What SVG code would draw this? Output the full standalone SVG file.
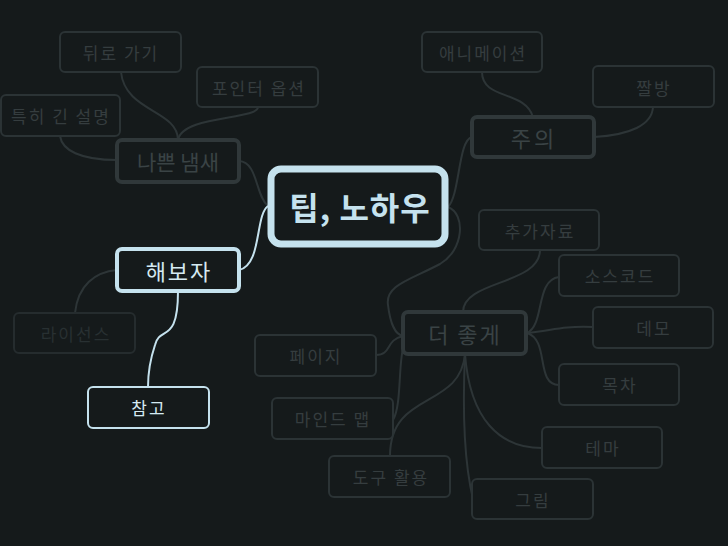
<svg xmlns="http://www.w3.org/2000/svg" width="728" height="546" viewBox="0 0 728 546">
<style>
text{font-family:"Noto Sans CJK KR","Noto Sans",sans-serif;text-anchor:middle;dominant-baseline:central}
.sub rect{fill:#151a1b;stroke:#2b3335;stroke-width:2}
.sub text{fill:#353d3f;font-size:17px;letter-spacing:2px}
.main rect{fill:#151a1b;stroke:#30383a;stroke-width:4}
.main text{fill:#3a4345;font-size:22px;letter-spacing:2px}
.faint rect{stroke:#252c2e}
.faint text{fill:#283032}
.lit rect{stroke:#c5e2ee}
.lit text{fill:#d5eaf2}
.c{fill:none;stroke:#2d3537;stroke-width:2}
.cl{fill:none;stroke:#c5e2ee;stroke-width:2}
</style>
<rect width="728" height="546" fill="#151a1b"/>
<g id="connectors">
<path class="c" d="M448,207 C466,214 464,250 440,264 C410,280 385,285 388,305 C390,322 395,335 403,336"/>
<path class="c" d="M448,207 C460,195 458,140 472,137"/>
<path class="c" d="M268,206 C255,195 258,162 239,161"/>
<path class="cl" d="M268,206 C255,215 262,265 239,270"/>
<path class="c" d="M178,140 C178,110 125,112 121,72"/>
<path class="c" d="M178,140 C182,115 258,120 258,107"/>
<path class="c" d="M117,160 C80,160 62,150 60,136"/>
<path class="c" d="M482,72 C482,100 525,90 533,117"/>
<path class="c" d="M594,137 C630,135 652,125 653,107"/>
<path class="c" d="M117,270 C95,272 78,285 75,313"/>
<path class="cl" d="M178,291 C178,345 160,325 155,345 C150,360 148,375 148,387"/>
<path class="c" d="M463,312 C463,280 540,285 540,250"/>
<path class="c" d="M527,333 C545,325 535,280 559,277"/>
<path class="c" d="M527,333 C555,330 560,326 593,327"/>
<path class="c" d="M527,333 C550,340 535,385 559,385"/>
<path class="c" d="M403,336 C385,340 392,355 376,355"/>
<path class="c" d="M404,345 C398,360 402,405 393,420"/>
<path class="c" d="M465,354 C460,410 390,390 390,456"/>
<path class="c" d="M465,354 C462,420 466,470 473,499"/>
<path class="c" d="M465,354 C470,420 500,448 542,448"/>
</g>
<g id="node-center">
<rect x="271" y="169" width="174" height="75" rx="10" fill="#151a1b" stroke="#c5e2ee" stroke-width="7"/>
<text x="360" y="206" font-size="32" font-weight="bold" fill="#c5e2ee" letter-spacing="1">팁, 노하우</text>
</g>
<g id="node-nappeun" class="main"><rect x="117" y="140" width="122" height="42" rx="5"/><text x="178" y="161" style="letter-spacing:0;font-size:21px">나쁜 냄새</text></g>
<g id="node-dwiro" class="sub"><rect x="60" y="32" width="121" height="40" rx="5"/><text x="121" y="52">뒤로 가기</text></g>
<g id="node-pointer" class="sub"><rect x="197" y="67" width="121" height="40" rx="5"/><text x="259" y="87">포인터 옵션</text></g>
<g id="node-teukhi" class="sub"><rect x="1" y="95" width="119" height="41" rx="5"/><text x="61" y="115">특히 긴 설명</text></g>
<g id="node-juui" class="main"><rect x="472" y="117" width="122" height="40" rx="5"/><text x="534" y="137" style="letter-spacing:3px">주의</text></g>
<g id="node-anim" class="sub"><rect x="422" y="32" width="120" height="40" rx="5"/><text x="483" y="52">애니메이션</text></g>
<g id="node-jjal" class="sub"><rect x="593" y="66" width="121" height="41" rx="5"/><text x="654" y="87">짤방</text></g>
<g id="node-haeboja" class="main lit"><rect x="117" y="249" width="122" height="42" rx="5"/><text x="179" y="270">해보자</text></g>
<g id="node-license" class="sub faint"><rect x="14" y="313" width="121" height="40" rx="5"/><text x="76" y="333">라이선스</text></g>
<g id="node-chamgo" class="sub lit"><rect x="88" y="387" width="121" height="41" rx="5"/><text x="149" y="407">참고</text></g>
<g id="node-deojoke" class="main"><rect x="403" y="312" width="123" height="42" rx="5"/><text x="465" y="333">더 좋게</text></g>
<g id="node-chuga" class="sub"><rect x="479" y="210" width="120" height="40" rx="5"/><text x="540" y="230">추가자료</text></g>
<g id="node-source" class="sub"><rect x="559" y="255" width="120" height="41" rx="5"/><text x="620" y="275">소스코드</text></g>
<g id="node-demo" class="sub"><rect x="593" y="307" width="120" height="41" rx="5"/><text x="654" y="327">데모</text></g>
<g id="node-mokcha" class="sub"><rect x="559" y="364" width="120" height="41" rx="5"/><text x="620" y="384">목차</text></g>
<g id="node-page" class="sub"><rect x="255" y="335" width="121" height="41" rx="5"/><text x="316" y="355">페이지</text></g>
<g id="node-mindmap" class="sub"><rect x="272" y="398" width="121" height="41" rx="5"/><text x="333" y="418">마인드 맵</text></g>
<g id="node-dogu" class="sub"><rect x="329" y="456" width="121" height="41" rx="5"/><text x="391" y="476">도구 활용</text></g>
<g id="node-theme" class="sub"><rect x="542" y="427" width="120" height="41" rx="5"/><text x="603" y="447">테마</text></g>
<g id="node-geurim" class="sub"><rect x="472" y="479" width="121" height="40" rx="5"/><text x="533" y="499">그림</text></g>
</svg>
